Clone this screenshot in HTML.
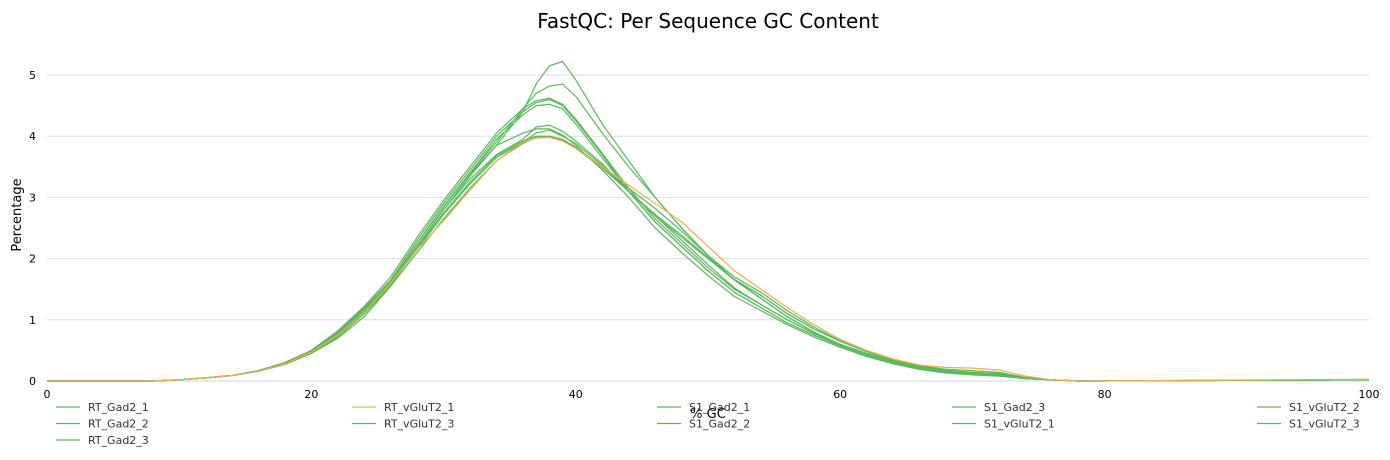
<!DOCTYPE html>
<html><head><meta charset="utf-8">
<style>
body{margin:0;background:#fff;font-family:"DejaVu Sans","Liberation Sans",sans-serif;}
svg{display:block}
</style></head>
<body>
<svg id="chart" width="1390" height="460" font-family="DejaVu Sans, Liberation Sans, sans-serif"></svg>
<script>
const gcPoints=[0,8,10,12,14,16,18,20,22,24,26,28,30,32,34,36,37,38,39,40,42,44,46,48,50,52,54,56,58,60,62,64,66,68,70,72,74,76,78,100];
const seriesNames=["RT_Gad2_1","RT_Gad2_2","RT_Gad2_3","RT_vGluT2_1","RT_vGluT2_3","S1_Gad2_1","S1_Gad2_2","S1_Gad2_3","S1_vGluT2_1","S1_vGluT2_2","S1_vGluT2_3"];
const seriesColors=["#5cb85c","#5cb85c","#5cb85c","#f0ad4e","#5cb85c","#5cb85c","#5cb85c","#5cb85c","#5cb85c","#5cb85c","#5cb85c"];
const sRTGad21=[0,0,0.02,0.05,0.09,0.16,0.27,0.45,0.7,1.05,1.55,2.2,2.8,3.35,3.85,4.4,4.85,5.15,5.22,4.92,4.2,3.6,3.0,2.5,2.05,1.65,1.35,1.05,0.8,0.6,0.45,0.32,0.22,0.15,0.12,0.1,0.05,0.02,0,0.02];
const sRTGad22=[0,0,0.02,0.05,0.09,0.16,0.28,0.47,0.72,1.1,1.6,2.25,2.85,3.4,3.9,4.45,4.7,4.82,4.85,4.65,4.05,3.5,3.0,2.5,2.05,1.65,1.35,1.05,0.8,0.6,0.45,0.32,0.22,0.15,0.12,0.1,0.05,0.02,0,0.02];
const sRTGad23=[0,0,0.02,0.05,0.09,0.17,0.3,0.5,0.8,1.2,1.65,2.3,2.9,3.45,4.0,4.4,4.55,4.6,4.5,4.25,3.7,3.1,2.6,2.2,1.8,1.45,1.2,0.95,0.75,0.58,0.42,0.3,0.2,0.14,0.11,0.09,0.04,0.02,0,0.02];
const sRTvGluT21=[0,0,0.02,0.05,0.09,0.16,0.28,0.47,0.75,1.12,1.6,2.15,2.62,3.12,3.6,3.9,3.97,3.98,3.92,3.8,3.5,3.2,2.9,2.6,2.2,1.8,1.5,1.2,0.92,0.68,0.5,0.36,0.26,0.22,0.21,0.18,0.08,0.02,0,0.03];
const sRTvGluT23=[0,0,0.02,0.05,0.09,0.17,0.3,0.5,0.82,1.22,1.7,2.35,2.95,3.5,4.05,4.45,4.58,4.62,4.52,4.28,3.72,3.15,2.65,2.25,1.85,1.5,1.25,1.0,0.78,0.6,0.45,0.32,0.22,0.15,0.12,0.1,0.05,0.02,0,0.02];
const sS1Gad21=[0,0,0.02,0.05,0.09,0.17,0.29,0.49,0.78,1.18,1.62,2.25,2.85,3.4,3.95,4.35,4.5,4.52,4.45,4.2,3.65,3.1,2.6,2.2,1.8,1.45,1.2,0.95,0.75,0.57,0.42,0.3,0.2,0.14,0.11,0.09,0.04,0.02,0,0.02];
const sS1Gad22=[0,0,0.02,0.05,0.09,0.16,0.28,0.47,0.75,1.15,1.6,2.2,2.8,3.3,3.7,3.95,4.15,4.18,4.08,3.92,3.55,3.1,2.7,2.35,2.0,1.65,1.4,1.1,0.85,0.65,0.48,0.34,0.24,0.17,0.14,0.12,0.05,0.02,0,0.02];
const sS1Gad23=[0,0,0.02,0.05,0.09,0.16,0.28,0.47,0.74,1.12,1.58,2.15,2.72,3.22,3.65,3.9,4.05,4.1,4.0,3.88,3.52,3.1,2.72,2.38,2.02,1.66,1.4,1.1,0.85,0.65,0.48,0.34,0.24,0.17,0.14,0.12,0.05,0.02,0,0.02];
const sS1vGluT21=[0,0,0.02,0.05,0.09,0.16,0.28,0.47,0.74,1.1,1.55,2.1,2.65,3.15,3.6,3.88,3.98,4.0,3.95,3.82,3.5,3.15,2.82,2.45,2.05,1.7,1.45,1.15,0.88,0.66,0.48,0.35,0.25,0.19,0.17,0.14,0.06,0.02,0,0.02];
const sS1vGluT22=[0,0,0.02,0.05,0.09,0.16,0.28,0.47,0.74,1.12,1.58,2.18,2.75,3.25,3.68,3.92,4.0,4.0,3.93,3.8,3.48,3.1,2.7,2.3,1.9,1.52,1.25,1.0,0.78,0.6,0.44,0.31,0.21,0.15,0.12,0.1,0.05,0.02,0,0.02];
const sS1vGluT23=[0,0,0.02,0.05,0.09,0.16,0.28,0.47,0.76,1.15,1.62,2.25,2.85,3.38,3.85,4.05,4.12,4.12,4.02,3.85,3.45,3.0,2.5,2.1,1.72,1.38,1.15,0.92,0.72,0.55,0.4,0.28,0.19,0.13,0.1,0.08,0.04,0.02,0,0.02];
const seriesValues=[sRTGad21,sRTGad22,sRTGad23,sRTvGluT21,sRTvGluT23,sS1Gad21,sS1Gad22,sS1Gad23,sS1vGluT21,sS1vGluT22,sS1vGluT23];
const xTicks=[0,20,40,60,80,100];
const yTicks=[0,1,2,3,4,5];

const NS="http://www.w3.org/2000/svg";
const svg=document.getElementById('chart');
const X0=47,X1=1369,Y0=381,YS=61.2;
const xs=v=>X0+(X1-X0)*v/100;
const ys=v=>Y0-v*YS;
function mk(tag,attrs,text){const e=document.createElementNS(NS,tag);for(const k in attrs)e.setAttribute(k,attrs[k]);if(text!==undefined)e.textContent=text;svg.appendChild(e);return e;}

let t=mk('text',{x:708,y:28,'text-anchor':'middle','font-size':20,fill:'#000'},'FastQC: Per Sequence GC Content');



yTicks.forEach(v=>{
  const g=mk('line',{x1:X0,x2:X1,y1:ys(v),y2:ys(v),stroke:v===0?'#ccd6eb':'#dddddd','stroke-width':1});
  
  
  const l=mk('text',{x:36,y:ys(v)+4,'text-anchor':'end','font-size':11,fill:'#000'},String(v));
  
  
});
xTicks.forEach(v=>{
  const l=mk('text',{x:xs(v),y:398,'text-anchor':'middle','font-size':11,fill:'#000'},String(v));
  
  
});
t=mk('text',{x:21,y:215,'text-anchor':'middle','font-size':13,fill:'#000',transform:'rotate(-90 21 215)'},'Percentage');



seriesValues.forEach((vals,i)=>{
  if(i===3)return;
  const d=vals.map((v,j)=>(j?'L':'M')+xs(gcPoints[j]).toFixed(1)+' '+ys(v).toFixed(1)).join(' ');
  const p=mk('path',{d:d,fill:'none',stroke:seriesColors[i],'stroke-width':1.2});
  
  
});
{
  const vals=seriesValues[3];
  const d=vals.map((v,j)=>(j?'L':'M')+xs(gcPoints[j]).toFixed(1)+' '+ys(v).toFixed(1)).join(' ');
  const p=mk('path',{d:d,fill:'none',stroke:seriesColors[3],'stroke-width':1.2});
  
  
}

t=mk('text',{x:708,y:418,'text-anchor':'middle','font-size':13,fill:'#000'},'% GC');



const legCols=[56,352,657,952,1257];
const legLayout=[[0,0],[0,1],[0,2],[1,0],[1,1],[2,0],[2,1],[3,0],[3,1],[4,0],[4,1]];
seriesNames.forEach((n,i)=>{
  const [c,r]=legLayout[i];
  const x=legCols[c],y=407+r*16.5;
  const ln=mk('line',{x1:x,x2:x+24,y1:y,y2:y,stroke:seriesColors[i],'stroke-width':1.2});
  
  
  const tx=mk('text',{x:x+32,y:y+4,'font-size':11,fill:'#333'},n);
  
  
});
</script>
</body></html>
